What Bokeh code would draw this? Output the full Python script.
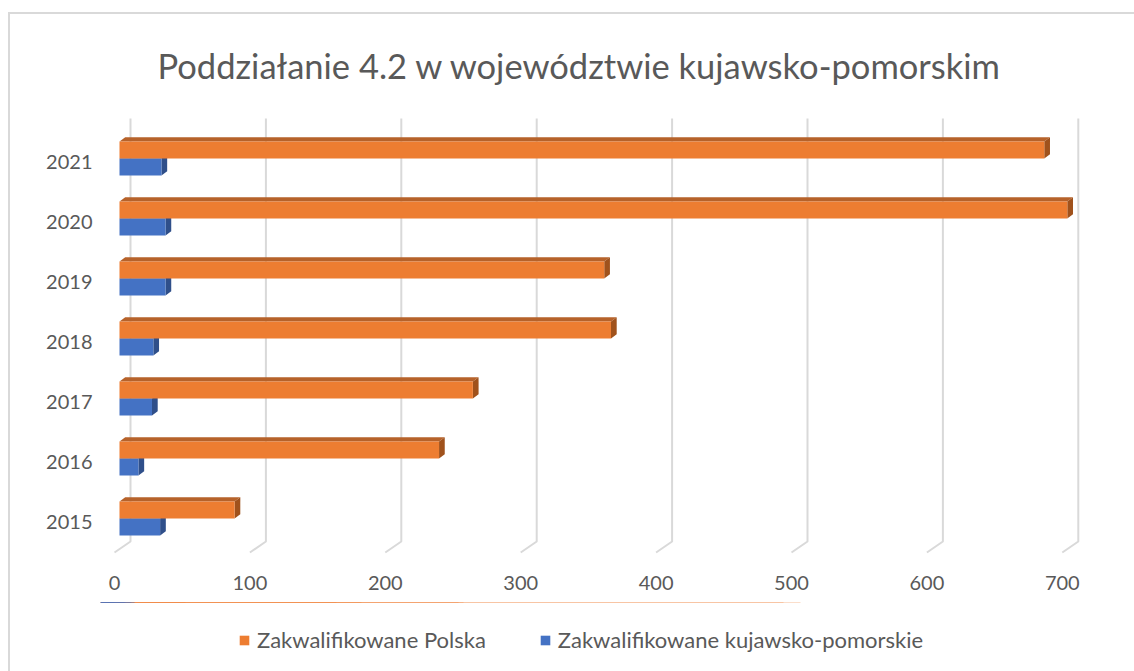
from bokeh.plotting import figure
from bokeh.layouts import column
from bokeh.models import Range1d, FixedTicker, Legend, LegendItem, Title
from bokeh.embed import file_html
from bokeh.resources import INLINE

# ---- data ----
years = [2015, 2016, 2017, 2018, 2019, 2020, 2021]
polska = [85, 236, 261, 363, 358, 700, 683]
kujawsko = [30, 14, 24, 25, 34, 34, 31]
x_ticks = [0, 100, 200, 300, 400, 500, 600, 700]
series_names = ["Zakwalifikowane Polska", "Zakwalifikowane kujawsko-pomorskie"]
title_text = "Poddziałanie 4.2 w województwie kujawsko-pomorskim"

# ---- styles ----
ORANGE, ORANGE_TOP, ORANGE_SIDE = "#ED7D31", "#B6622A", "#A0521C"
BLUE, BLUE_TOP, BLUE_SIDE = "#4472C4", "#35599A", "#2F4F8A"
GRID = "#D9D9D9"
TEXT = "#595959"
FONT = "Lato"

ML, MR, MT, MB = 100, 24, 110, 46
FW, FH = 1010, 446
LEG_H = 69

X_START, X_END = -10.34, 735.6
Y_START, Y_END = 2014.4167, 2021.85
ux = (X_END - X_START) / FW   # data units per px (x)
uy = (Y_END - Y_START) / FH   # data units per px (y)

p = figure(frame_width=FW, frame_height=FH, output_backend="svg", toolbar_location=None,
           x_range=Range1d(X_START, X_END), y_range=Range1d(Y_START, Y_END),
           min_border_left=ML, min_border_right=MR, min_border_top=MT,
           min_border_bottom=MB)
p.outline_line_color = None
p.grid.visible = False
p.background_fill_color = "white"
p.border_fill_alpha = 0
# chart-area frame (top and left edges visible in the reference)
p.styles = {
    "background-color": "white",
    "background-image": "linear-gradient(#D9D9D9, #D9D9D9), linear-gradient(#D9D9D9, #D9D9D9)",
    "background-repeat": "no-repeat",
    "background-position": "8px 12px, 8px 12px",
    "background-size": "1126px 2px, 2px 660px",
}

# ---- 3D gridlines (back wall + floor diagonal) ----
back_dx, back_dy = 16 * ux, 11 * uy
grid_top = Y_END - 8 * uy
floor_y = Y_START + 4 * uy
gxs = [[v + back_dx, v + back_dx, v] for v in x_ticks]
gys = [[grid_top, floor_y + back_dy, floor_y] for v in x_ticks]
p.multi_line(gxs, gys, line_color=GRID, line_width=2)

# ---- bars with 3D faces ----
bar_h = 17 * uy
x0 = 5 * ux                   # bars sit a little into the depth
d_x, d_y = 5.7 * ux, 4.3 * uy # bar depth
pair_shift = 3 * uy
off_or = pair_shift + bar_h / 2
off_bl = pair_shift - bar_h / 2

def faces(vals, off):
    tops_x, tops_y, sides_x, sides_y = [], [], [], []
    for y, v in zip(years, vals):
        yc = y + off
        yt, yb = yc + bar_h / 2, yc - bar_h / 2
        L, R = x0, x0 + v
        tops_x.append([L, L + d_x, R + d_x, R])
        tops_y.append([yt, yt + d_y, yt + d_y, yt])
        sides_x.append([R, R + d_x, R + d_x, R])
        sides_y.append([yt, yt + d_y, yb + d_y, yb])
    return tops_x, tops_y, sides_x, sides_y

bl_tx, bl_ty, bl_sx, bl_sy = faces(kujawsko, off_bl)
or_tx, or_ty, or_sx, or_sy = faces(polska, off_or)

p.patches(bl_tx, bl_ty, fill_color=BLUE_TOP, line_color=None)
p.patches(bl_sx, bl_sy, fill_color=BLUE_SIDE, line_color=None)
p.hbar(y=[y + off_bl for y in years], left=x0,
       right=[x0 + v for v in kujawsko], height=bar_h,
       fill_color=BLUE, line_color=None)
p.patches(or_tx, or_ty, fill_color=ORANGE_TOP, line_color=None)
p.patches(or_sx, or_sy, fill_color=ORANGE_SIDE, line_color=None)
p.hbar(y=[y + off_or for y in years], left=x0,
       right=[x0 + v for v in polska], height=bar_h,
       fill_color=ORANGE, line_color=None)

# ---- axes ----
for ax in (p.xaxis[0], p.yaxis[0]):
    ax.axis_line_color = None
    ax.major_tick_line_color = None
    ax.minor_tick_line_color = None
    ax.major_tick_out = 0
    ax.major_tick_in = 0
    ax.major_label_text_font = FONT
    ax.major_label_text_font_size = "20px"
    ax.major_label_text_color = TEXT
p.xaxis[0].ticker = FixedTicker(ticks=x_ticks)
p.xaxis[0].major_label_standoff = 19
p.yaxis[0].ticker = FixedTicker(ticks=years)
p.yaxis[0].major_label_overrides = {y: str(y) for y in years}
p.yaxis[0].major_label_standoff = 8

# ---- title ----
p.title = Title(text=title_text, align="left", offset=57,
                text_font=FONT, text_font_size="34.5px", text_font_style="normal",
                text_color=TEXT, standoff=50)

# ---- legend strip (separate panel under the chart, frame aligned with p) ----
p2 = figure(frame_width=FW, height=LEG_H, output_backend="svg", toolbar_location=None,
            x_range=Range1d(0, FW), y_range=Range1d(0, LEG_H),
            x_axis_type=None, y_axis_type=None,
            min_border_left=ML, min_border_right=MR, min_border_top=0, min_border_bottom=0)
p2.outline_line_color = None
p2.grid.visible = False
p2.background_fill_alpha = 0
p2.border_fill_alpha = 0
p2.styles = {
    "background-color": "white",
    "background-image": "linear-gradient(#D9D9D9, #D9D9D9)",
    "background-repeat": "no-repeat",
    "background-position": "8px 0px",
    "background-size": "2px 100%",
}
# the same series as zero-height keys (nothing drawn), only feeding the legend
k_or = p2.hbar(y=years, right=polska, height=0, fill_color=ORANGE, line_color=None)
k_bl = p2.hbar(y=years, right=kujawsko, height=0, fill_color=BLUE, line_color=None)

legend = Legend(items=[LegendItem(label=series_names[0], renderers=[k_or]),
                       LegendItem(label=series_names[1], renderers=[k_bl])],
                orientation="horizontal", location=(138, 18),
                glyph_width=12, glyph_height=12, label_standoff=7, spacing=53,
                label_text_font=FONT, label_text_font_size="22px",
                label_text_color=TEXT, border_line_color=None,
                background_fill_alpha=0, padding=0, margin=0)
p2.add_layout(legend, "center")

layout = column(p, p2, spacing=0)
open("out.html", "w").write(file_html(layout, INLINE))
